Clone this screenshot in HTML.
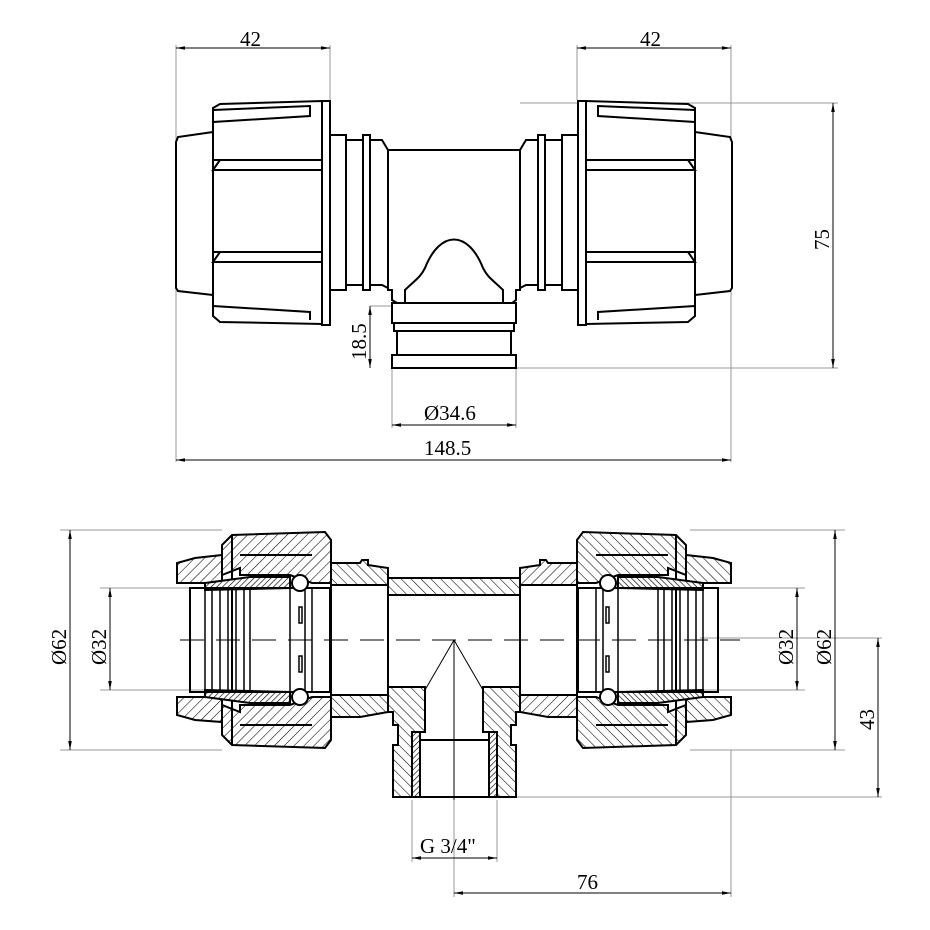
<!DOCTYPE html>
<html><head><style>body{margin:0;background:#fff}svg{display:block}text{font-family:"Liberation Serif",serif;font-size:21px;fill:#000}</style></head>
<body>
<svg width="930" height="930" viewBox="0 0 930 930" xmlns="http://www.w3.org/2000/svg">
<defs>
<pattern id="h" width="7" height="7" patternUnits="userSpaceOnUse" patternTransform="rotate(45)"><rect width="7" height="7" fill="#fff"/><line x1="0" y1="0" x2="0" y2="7" stroke="#000" stroke-width="1.1"/></pattern>
<pattern id="h2" width="7" height="7" patternUnits="userSpaceOnUse" patternTransform="rotate(-45)"><rect width="7" height="7" fill="#fff"/><line x1="0" y1="0" x2="0" y2="7" stroke="#000" stroke-width="1.1"/></pattern>
<pattern id="hd" width="4" height="4" patternUnits="userSpaceOnUse" patternTransform="rotate(45)"><rect width="4" height="4" fill="#fff"/><line x1="0" y1="0" x2="0" y2="4" stroke="#000" stroke-width="1.3"/></pattern>
<marker id="a" viewBox="0 0 10 10" refX="10" refY="5" markerWidth="9" markerHeight="9" orient="auto-start-reverse"><path d="M0,3L10,5L0,7z" fill="#000"/></marker>
<g id="capT" fill="#fff" stroke="#000" stroke-width="2">
<path d="M213,132L178,137L176,142L176,288L178,291L213,295Z"/>
<path d="M213,108L220,104L322,101L322,324L220,322L213,316Z"/>
<rect x="322" y="101" width="8" height="224"/>
<path d="M213,110L310,106L310,116L213,122" fill="none"/>
<path d="M213,160L322,160M220,160L213,170L322,170M213,252L322,252M220,252L213,262L322,262M213,306L310,312L310,320" fill="none"/>
<rect x="330" y="135" width="16" height="155"/>
<rect x="346" y="140" width="17" height="145"/>
<rect x="363" y="135" width="7" height="155"/>
<path d="M370,140L382,140L388,150L388,288L382,285L370,285Z"/>
</g>
<g id="capB" stroke="#000" stroke-width="2">
<path d="M177,583L177,563L195,558L222,555L222,583Z" fill="url(#h)"/>
<path d="M177,697L177,715L195,720L222,722L222,697Z" fill="url(#h)"/>
<path d="M222,545L232,535L325,532L331,540L331,583L312,583L290,575L240,575L240,568L222,575Z" fill="url(#h)"/>
<path d="M222,735L232,745L325,748L331,740L331,697L312,697L290,705L240,705L240,712L222,705Z" fill="url(#h)"/>
<path d="M232,535L232,745M240,555L312,555M240,725L312,725" fill="none"/>
<path d="M205,583L250,577L290,577L290,588L205,590Z" fill="url(#hd)"/>
<path d="M205,697L250,703L290,703L290,692L205,690Z" fill="url(#hd)"/>
<rect x="190" y="588" width="140" height="104" fill="none"/>
<path d="M205,588V692M212,588V692M220,588V692M228,588V692M236,588V692M244,588V692M250,588V692M290,588V692M305,588V692M312,588V692" fill="none" stroke-width="1.5"/>
<circle cx="300" cy="583" r="8" fill="#fff"/><circle cx="300" cy="697" r="8" fill="#fff"/>
<rect x="299" y="607" width="3" height="16" fill="none" stroke-width="1.5"/><rect x="299" y="656" width="3" height="16" fill="none" stroke-width="1.5"/>
<path d="M331,563L360,563L362,560L368,560L368,565L388,568L388,578L395,578L395,595L388,595L388,585L331,585Z" fill="url(#h2)"/>
<path d="M331,695L388,695L388,688L395,688L395,700L388,712L360,717L331,717Z" fill="url(#h2)"/>
<rect x="331" y="585" width="57" height="110" fill="#fff"/>
</g>
</defs>
<g stroke="#999" stroke-width="1" fill="none">
<path d="M176,45V462M330,45V100M577,45V100M731,45V462M520,103H838M516,368H838M370,306H392M392,368V428M516,368V428M60,530H222M60,750H222M100,588H205M100,690H205M690,588H805M690,750H845M690,530H845M486,797H882M454,800V897M731,750V897M412,800V862M497,800V862M690,690H805M700,638H882"/>
</g>
<use href="#capT"/>
<use href="#capT" transform="translate(908,0) scale(-1,1)"/>
<g fill="#fff" stroke="#000" stroke-width="2">
<path d="M388,150H520V290H516V300L512,303H397L392,300V290H388Z"/>
<path d="M405,290C415,280 420,278 425,268C440,230 468,230 483,268C488,278 493,280 503,290V303H405Z"/>
<rect x="392" y="303" width="124" height="20"/>
<rect x="394" y="323" width="120" height="8"/>
<rect x="397" y="331" width="114" height="24"/>
<rect x="392" y="355" width="124" height="13"/>
</g>
<use href="#capB"/>
<use href="#capB" transform="translate(908,0) scale(-1,1)"/>
<g stroke="#000" stroke-width="2">
<path d="M388,578H520V595H388Z" fill="url(#h2)"/>
<path d="M388,687H425V732H412V797H393V745H398V725H393V712H388Z" fill="url(#h2)"/>
<path d="M520,687H483V732H497V797H516V745H511V725H516V712H520Z" fill="url(#h2)"/>
<rect x="412" y="732" width="8" height="65" fill="url(#hd)"/>
<rect x="489" y="732" width="8" height="65" fill="url(#hd)"/>
<path d="M393,797H516M420,740H489" fill="none"/>
</g>
<g stroke="#000" stroke-width="1" fill="none">
<path d="M180,640H740" stroke-dasharray="24,12"/>
<path d="M454,640L425,690M454,640L483,690M454,640V800"/>
</g>
<g stroke="#000" stroke-width="1" fill="none" marker-start="url(#a)" marker-end="url(#a)">
<path d="M176,48H330"/><path d="M577,48H731"/>
<path d="M833,103V368"/><path d="M370,306V368"/>
<path d="M392,425H516"/><path d="M176,460H731"/>
<path d="M70,530V750"/><path d="M110,588V690"/>
<path d="M797,588V690"/><path d="M835,530V750"/>
<path d="M878,638V797"/><path d="M412,858H497"/><path d="M454,893H731"/>
</g>
<text x="240" y="46">42</text><text x="640" y="46">42</text>
<text x="424" y="420">Ø34.6</text><text x="424" y="455">148.5</text>
<text x="420" y="853">G 3/4"</text><text x="577" y="889">76</text>
<text transform="translate(829,250) rotate(-90)">75</text>
<text transform="translate(366,360) rotate(-90)">18.5</text>
<text transform="translate(66,665) rotate(-90)">Ø62</text>
<text transform="translate(106,665) rotate(-90)">Ø32</text>
<text transform="translate(793,665) rotate(-90)">Ø32</text>
<text transform="translate(831,665) rotate(-90)">Ø62</text>
<text transform="translate(874,730) rotate(-90)">43</text>
</svg>
</body></html>
